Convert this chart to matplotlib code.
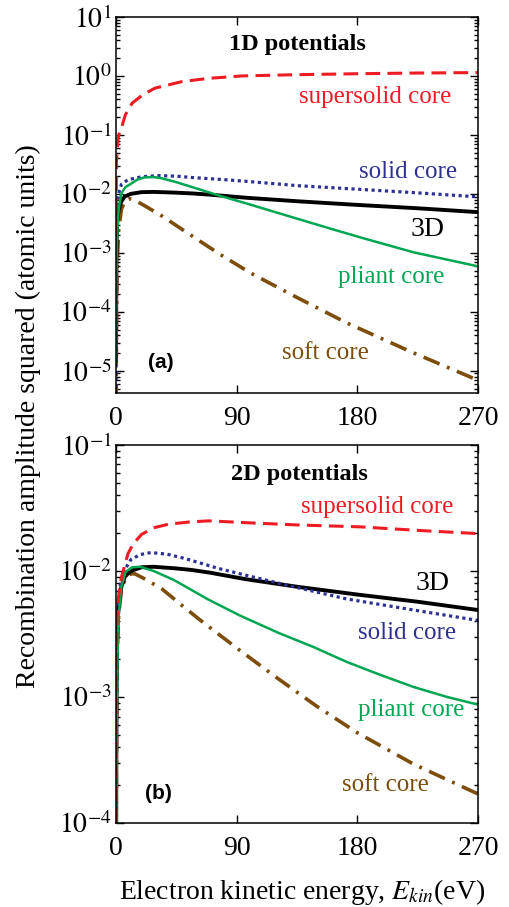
import numpy as np
import matplotlib
matplotlib.use("Agg")
import matplotlib.pyplot as plt
from matplotlib.ticker import LogLocator, NullFormatter, FixedLocator

plt.rcParams['font.family'] = ['Liberation Serif', 'DejaVu Serif']
plt.rcParams['mathtext.fontset'] = 'stix'

# ---------------- data ----------------
# 3D reference curve (same in both panels)
e_3d = [0, 0.2, 0.5, 1, 2, 4, 6.5, 11, 19, 28, 44, 56, 70, 97, 135, 180, 225, 270]
y_3d = [1.4e-5, 3e-4, 1.8e-3, 3.5e-3, 5.5e-3, 7.5e-3, 9.0e-3, 1.0e-2, 1.07e-2, 1.08e-2,
        1.05e-2, 1.02e-2, 9.7e-3, 8.6e-3, 7.5e-3, 6.5e-3, 5.7e-3, 4.9e-3]

# panel (a): 1D potentials
e_super1 = [0, 0.3, 1.5, 2.5, 4.4, 7, 12, 20, 29, 49, 69, 94, 135, 180, 225, 270]
y_super1 = [2e-3, 3.5e-2, 8.5e-2, 0.11, 0.14, 0.22, 0.345, 0.48, 0.62, 0.80, 0.91, 1.0,
            1.05, 1.09, 1.12, 1.14]
e_solid1 = [0, 0.3, 0.7, 1, 2, 4, 9, 19, 31, 45, 56, 81, 99, 135, 180, 225, 270]
y_solid1 = [4e-6, 1.5e-3, 5e-3, 7e-3, 1.02e-2, 1.45e-2, 1.74e-2, 1.95e-2, 2.04e-2, 2.0e-2,
            1.9e-2, 1.74e-2, 1.62e-2, 1.38e-2, 1.2e-2, 1.04e-2, 8.9e-3]
e_pliant1 = [0, 0.3, 0.6, 1, 2, 4, 7, 11.4, 16, 21, 28, 34, 45, 56, 76, 99, 135, 160, 184,
             222, 270]
y_pliant1 = [1.4e-5, 4e-4, 1.3e-3, 2.5e-3, 5.5e-3, 1.02e-2, 1.3e-2, 1.5e-2, 1.75e-2, 1.9e-2,
             1.93e-2, 1.84e-2, 1.58e-2, 1.32e-2, 9.5e-3, 6.7e-3, 3.8e-3, 2.57e-3, 1.78e-3,
             1.02e-3, 5.9e-4]
e_soft1 = [0, 0.5, 1, 2, 4, 7, 10, 15, 24, 33, 55, 78, 100, 130, 172, 220, 270]
y_soft1 = [3e-6, 2e-4, 8e-4, 2.5e-3, 5.5e-3, 7.8e-3, 8.3e-3, 7.6e-3, 5.8e-3, 4.4e-3, 2.05e-3,
           9.3e-4, 4.6e-4, 2.0e-4, 6.5e-5, 2.1e-5, 6.9e-6]

# panel (b): 2D potentials
e_super2 = [0, 0.3, 0.7, 1.5, 4, 9, 13, 19, 28, 39, 55, 69, 96, 135, 182, 225, 270]
y_super2 = [1e-4, 2e-3, 4e-3, 5.9e-3, 8.9e-3, 1.38e-2, 1.65e-2, 1.95e-2, 2.2e-2, 2.35e-2,
            2.45e-2, 2.5e-2, 2.42e-2, 2.32e-2, 2.24e-2, 2.1e-2, 1.98e-2]
e_solid2 = [0, 0.5, 1, 2, 4, 6.5, 11, 18, 26, 38, 51, 76, 96, 130, 172, 222, 270]
y_solid2 = [5e-5, 1.5e-3, 3.5e-3, 6.5e-3, 8.8e-3, 1.02e-2, 1.23e-2, 1.35e-2, 1.4e-2, 1.36e-2,
            1.26e-2, 1.05e-2, 9.3e-3, 7.6e-3, 6.0e-3, 4.9e-3, 4.05e-3]
e_pliant2 = [0, 0.5, 1, 2, 4, 7, 12, 18, 28, 43, 56, 68, 92, 122, 147, 172, 197, 222, 247, 270]
y_pliant2 = [5e-5, 7e-4, 2e-3, 4.5e-3, 7.5e-3, 9.8e-3, 1.07e-2, 1.08e-2, 1.0e-2, 8.5e-3,
             7.1e-3, 6.0e-3, 4.45e-3, 3.2e-3, 2.5e-3, 1.9e-3, 1.5e-3, 1.2e-3, 1.0e-3, 8.7e-4]
e_soft2 = [0, 0.5, 1, 2, 4, 7, 11, 14, 21, 34, 49, 62, 75, 92, 120, 150, 180, 222, 270]
y_soft2 = [5e-5, 1e-3, 2.5e-3, 4.5e-3, 7e-3, 8.8e-3, 9.5e-3, 9.5e-3, 8.7e-3, 7.24e-3,
           5.35e-3, 4.14e-3, 3.24e-3, 2.36e-3, 1.42e-3, 8.4e-4, 5.2e-4, 2.93e-4, 1.7e-4]

x_ticks = [0, 90, 180, 270]

# colours
c_red = '#ED1C24'
c_blue = '#2E3192'
c_green = '#00A651'
c_brown = '#7D4E0B'

fig = plt.figure(figsize=(5.1, 9.07), dpi=100)
ax1 = fig.add_axes([0.2275, 0.5667, 0.7098, 0.4146])
ax2 = fig.add_axes([0.2275, 0.0926, 0.7098, 0.4168])


def draw_panel(ax, curves, ylim, decades):
    for e, y, kw in curves:
        ax.plot(e, y, **kw)
    ax.set_yscale('log')
    ax.set_xlim(0, 270)
    ax.set_ylim(*ylim)
    ax.xaxis.set_major_locator(FixedLocator(x_ticks))
    ax.set_xticklabels([str(t) for t in x_ticks])
    ax.yaxis.set_major_locator(FixedLocator([10.0 ** d for d in decades]))
    ax.set_yticklabels([r'$10^{%d}$' % d for d in decades])
    ax.yaxis.set_minor_locator(LogLocator(base=10, subs=np.arange(2, 10), numticks=30))
    ax.yaxis.set_minor_formatter(NullFormatter())
    ax.tick_params(which='both', direction='in', top=True, right=True, width=1.0)
    ax.tick_params(which='major', length=6, labelsize=20)
    ax.tick_params(axis='x', pad=9)
    ax.tick_params(axis='y', pad=3)
    ax.tick_params(which='minor', length=3)
    for s in ax.spines.values():
        s.set_linewidth(1.1)


st = dict(
    black=dict(color='black', lw=2.8, solid_capstyle='butt'),
    red=dict(color=c_red, lw=2.2, linestyle=(0, (4.8, 2.4))),
    blue=dict(color=c_blue, lw=2.3, linestyle=(0, (1, 1.1))),
    green=dict(color=c_green, lw=1.8),
    brown=dict(color=c_brown, lw=2.6, linestyle=(0, (4.8, 2.2, 0.8, 2.2))),
)

draw_panel(ax1, [(e_soft1, y_soft1, st['brown']),
                 (e_3d, y_3d, st['black']),
                 (e_solid1, y_solid1, st['blue']),
                 (e_pliant1, y_pliant1, st['green']),
                 (e_super1, y_super1, st['red'])],
           (4.2e-6, 10), range(-5, 2))
draw_panel(ax2, [(e_soft2, y_soft2, st['brown']),
                 (e_3d, y_3d, st['black']),
                 (e_solid2, y_solid2, st['blue']),
                 (e_pliant2, y_pliant2, st['green']),
                 (e_super2, y_super2, st['red'])],
           (1e-4, 1e-1), range(-4, 0))

# annotations
lab = 18
ax1.text(135, 3.35, '1D potentials', fontsize=17.5, fontweight='bold', ha='center', va='center')
ax1.text(193, 0.44, 'supersolid core', color=c_red, fontsize=lab, ha='center', va='center')
ax1.text(218, 0.0234, 'solid core', color=c_blue, fontsize=lab, ha='center', va='center')
ax1.text(232, 0.00245, '3D', color='black', fontsize=20, ha='center', va='center')
ax1.text(205, 3.9e-4, 'pliant core', color=c_green, fontsize=lab, ha='center', va='center')
ax1.text(156, 2.04e-5, 'soft core', color=c_brown, fontsize=lab, ha='center', va='center')
ax1.text(33.6, 1.4e-5, '(a)', fontsize=15, fontweight='bold', family='Liberation Sans',
         ha='center', va='center')

ax2.text(137, 0.0578, '2D potentials', fontsize=17.5, fontweight='bold', ha='center', va='center')
ax2.text(195, 0.0322, 'supersolid core', color=c_red, fontsize=lab, ha='center', va='center')
ax2.text(236, 0.0080, '3D', color='black', fontsize=20, ha='center', va='center')
ax2.text(217, 0.0032, 'solid core', color=c_blue, fontsize=lab, ha='center', va='center')
ax2.text(220, 7.9e-4, 'pliant core', color=c_green, fontsize=lab, ha='center', va='center')
ax2.text(201, 2.0e-4, 'soft core', color=c_brown, fontsize=lab, ha='center', va='center')
ax2.text(32, 1.73e-4, '(b)', fontsize=15, fontweight='bold', family='Liberation Sans',
         ha='center', va='center')

fig.text(28 / 510, 1 - 416 / 907, 'Recombination amplitude squared (atomic units)',
         rotation=90, fontsize=20, ha='center', va='center')
fig.text(302 / 510, 1 - 892 / 907, r'Electron kinetic energy, $E_{kin}$(eV)',
         fontsize=20, ha='center', va='center')

fig.savefig('out.png', dpi=100)
